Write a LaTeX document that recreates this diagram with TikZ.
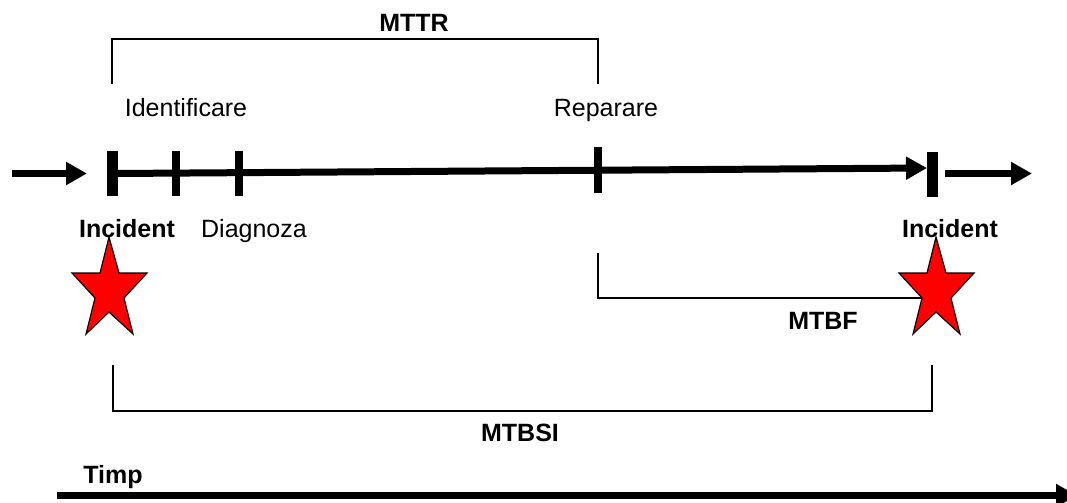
\documentclass[tikz,border=0pt]{standalone}
\usepackage{fontspec}
\setmainfont{Liberation Sans}
\usetikzlibrary{arrows.meta}
\begin{document}
\begin{tikzpicture}[x=0.5pt,y=-0.5pt,
  lbl/.style={anchor=base,inner sep=0pt,font=\fontsize{12.5}{15}\selectfont},
  blbl/.style={lbl,font=\fontsize{12.5}{15}\selectfont\bfseries},
  axis/.style={line width=3.5pt,-{Triangle[length=10.5pt,width=11pt]}},
  bigtick/.style={line width=5.5pt},
  smalltick/.style={line width=4pt},
  bracket/.style={line width=1pt},
  starshape/.style={fill=red,draw=black,line width=0.6pt,line join=miter}]
\clip (0,0) rectangle (1067,503);
\fill[white] (0,0) rectangle (1067,503);

% tick coordinates
\coordinate (i1t) at (112.5,151); \coordinate (i1b) at (112.5,196);
\coordinate (t2t) at (176,151);   \coordinate (t2b) at (176,196);
\coordinate (t3t) at (238.5,151); \coordinate (t3b) at (238.5,196);
\coordinate (rpt) at (598,147);   \coordinate (rpb) at (598,193);
\coordinate (i2t) at (932.5,152); \coordinate (i2b) at (932.5,197);

% axis lines
\coordinate (inS) at (12,173.5);  \coordinate (inE) at (87,173.5);
\coordinate (mS) at (116,173.5);  \coordinate (mE) at (927,168);
\coordinate (outS) at (945,173.5); \coordinate (outE) at (1032,173.5);
\draw[axis] (inS) -- (inE);
\draw[axis] (mS) -- (mE);
\draw[axis] (outS) -- (outE);

\draw[bigtick] (i1t) -- (i1b);
\draw[smalltick] (t2t) -- (t2b);
\draw[smalltick] (t3t) -- (t3b);
\draw[smalltick] (rpt) -- (rpb);
\draw[bigtick] (i2t) -- (i2b);

% brackets
\coordinate (a1) at (112,84); \coordinate (a2) at (112,39);
\coordinate (a3) at (598,39); \coordinate (a4) at (598,84);
\draw[bracket] (a1) -- (a2) -- (a3) -- (a4);

\coordinate (b1) at (598,253); \coordinate (b2) at (598,298);
\coordinate (b3) at (936,298);
\draw[bracket] (b1) -- (b2) -- (b3);

\coordinate (c1) at (113,365); \coordinate (c2) at (113,411);
\coordinate (c3) at (932,411); \coordinate (c4) at (932,365);
\draw[bracket] (c1) -- (c2) -- (c3) -- (c4);

% stars
\foreach \dx/\nm in {0/starL,827/starR}{
  \begin{scope}[xshift=\dx*0.5pt]
  \draw[starshape] (109,237) -- (119,273) -- (147,273) -- (124,298) -- (133,334)
    -- (109,312) -- (86,334) -- (95,298) -- (72,273) -- (100,273) -- cycle;
  \end{scope}
}

% time arrow
\coordinate (tS) at (57,495.5); \coordinate (tE) at (1077,495.5);
\draw[axis] (tS) -- (tE);

% labels
\node[blbl] (mttr) at (414,32) {MTTR};
\node[lbl] (ident) at (186,116) {Identificare};
\node[lbl] (rep) at (606,116) {Reparare};
\node[blbl] (inc1) at (127,237) {Incident};
\node[lbl] (diag) at (254,237) {Diagnoza};
\node[blbl] (inc2) at (950,237) {Incident};
\node[blbl] (mtbf) at (823,329) {MTBF};
\node[blbl] (mtbsi) at (520,441) {MTBSI};
\node[blbl] (timp) at (113,483) {Timp};
\end{tikzpicture}
\end{document}
